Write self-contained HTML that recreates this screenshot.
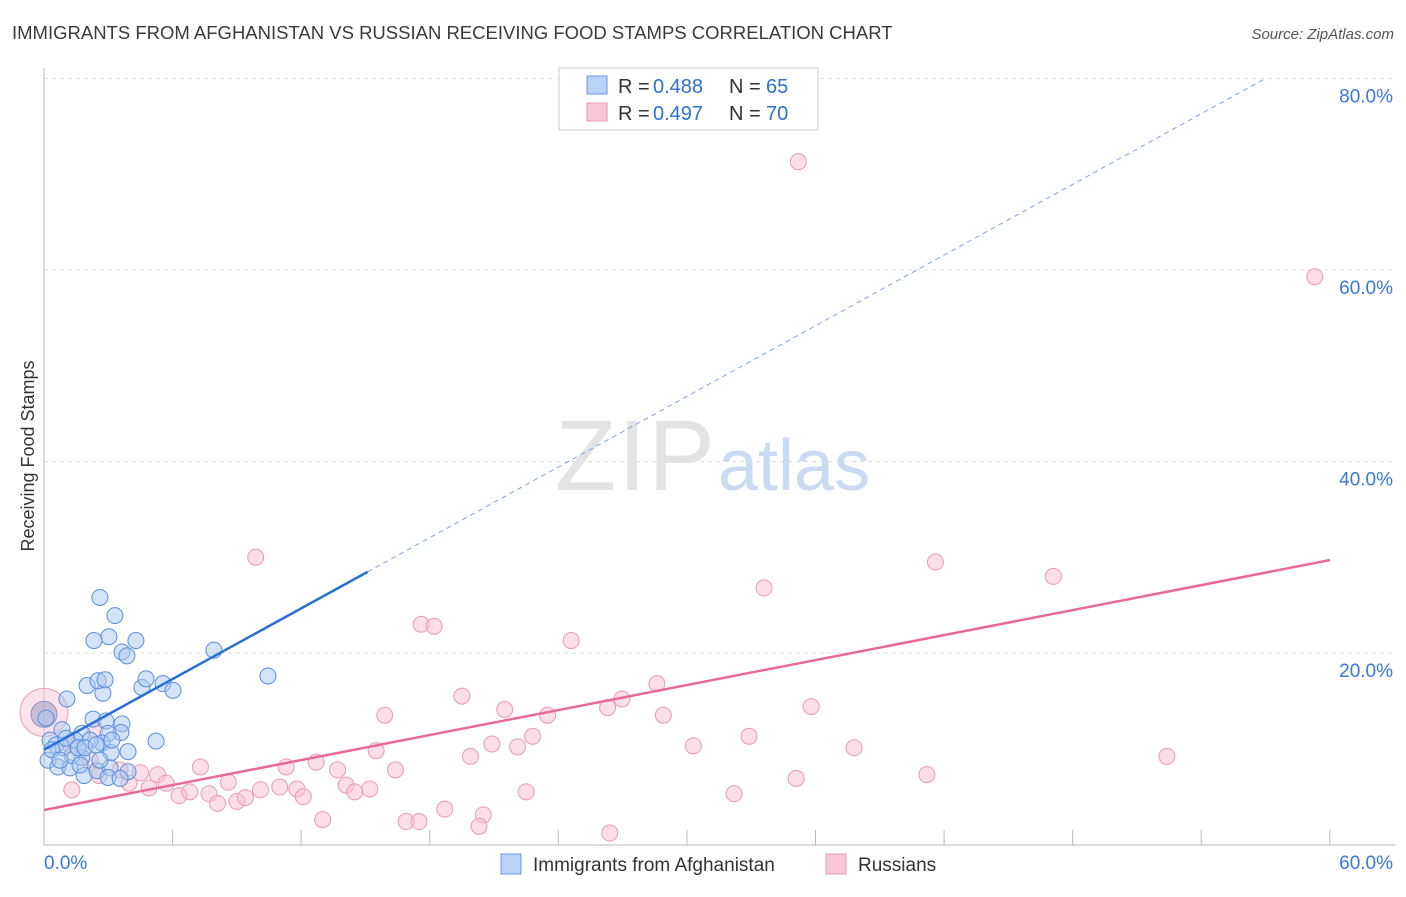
<!DOCTYPE html>
<html><head><meta charset="utf-8"><style>
body{margin:0;background:#fff;font-family:"Liberation Sans",sans-serif;}
svg text{font-family:"Liberation Sans",sans-serif;}
</style></head><body>
<svg width="1406" height="892">
<text x="12" y="39" font-size="18.5" fill="#3a3a3a">IMMIGRANTS FROM AFGHANISTAN VS RUSSIAN RECEIVING FOOD STAMPS CORRELATION CHART</text>
<text x="1394" y="39" font-size="15" fill="#555" font-style="italic" text-anchor="end">Source: ZipAtlas.com</text>
<g id="grid"></g>
<text x="715" y="490" font-size="100" fill="#e3e3e3" text-anchor="end" font-family="Liberation Serif,serif" textLength="160">ZIP</text>
<text x="718" y="490" font-size="72" fill="#c9daf2">atlas</text>
<text transform="translate(34,456) rotate(-90)" font-size="18" fill="#333" text-anchor="middle">Receiving Food Stamps</text>
<g id="marks"></g>
<g>
<rect x="559" y="68" width="259" height="62" fill="#fff" stroke="#ccc"/>
<rect x="587" y="76" width="20" height="18" fill="#b8d3f5" stroke="#6a9be0"/>
<rect x="587" y="103" width="20" height="18" fill="#f8c7d6" stroke="#e89ab3"/>
<text x="618" y="93" font-size="20" fill="#333">R =</text>
<text x="653" y="93" font-size="20" fill="#2f6fd0">0.488</text>
<text x="729" y="93" font-size="20" fill="#333">N =</text>
<text x="766" y="93" font-size="20" fill="#2f6fd0">65</text>
<text x="618" y="120" font-size="20" fill="#333">R =</text>
<text x="653" y="120" font-size="20" fill="#2f6fd0">0.497</text>
<text x="729" y="120" font-size="20" fill="#333">N =</text>
<text x="766" y="120" font-size="20" fill="#2f6fd0">70</text>
</g>
<g>
<rect x="501" y="854" width="20" height="20" fill="#b8d3f5" stroke="#6a9be0"/>
<text x="533" y="871" font-size="19" fill="#333">Immigrants from Afghanistan</text>
<rect x="826" y="854" width="20" height="20" fill="#f8c7d6" stroke="#e89ab3"/>
<text x="858" y="871" font-size="19" fill="#333">Russians</text>
</g>
</svg>
<script>
const xTicks=[0,60];
const yTicks=[20,40,60,80];
const blueX=[2.61,3.03,3.31,2.33,4.29,3.64,3.87,7.93,10.45,2.01,2.75,2.52,2.85,4.57,4.76,5.55,6.02,1.07,2.29,3.64,3.59,2.89,1.77,2.99,2.71,3.92,5.23,3.13,1.77,0.84,0.28,0.56,0.19,0.65,1.21,1.87,2.47,3.08,2.99,3.92,1.31,0.89,1.45,2.15,0.37,0.75,1.03,1.59,0.09,3.17,1.91,2.43,1.68,3.55,2.61];
const blueY=[25.8,21.7,23.9,21.3,21.3,20.1,19.7,20.3,17.6,16.6,15.8,17.1,17.2,16.4,17.3,16.8,16.1,15.2,13.1,12.6,11.7,12.9,11.6,11.6,10.6,9.7,10.8,9.6,9.1,12.0,10.9,10.4,8.8,8.1,8.0,7.2,7.7,8.0,7.0,7.6,9.3,10.1,10.9,10.9,9.9,8.8,11.1,10.1,13.2,10.9,10.1,10.4,8.3,6.9,8.8];
const pinkX=[35.2,59.3,9.88,41.6,47.1,33.6,17.6,18.2,24.6,19.5,28.6,26.97,26.3,21.5,23.5,15.9,28.9,35.8,32.9,30.3,37.8,22.8,20.9,22.1,15.5,19.9,52.4,41.2,35.1,32.2,22.5,12.7,13.7,16.4,11.3,7.3,5.3,8.6,10.1,11.0,11.8,12.1,14.1,14.5,15.2,4.9,5.7,6.3,6.8,7.7,8.1,9.0,9.4,13.0,16.9,17.5,18.7,20.5,20.3,26.4,3.97,4.5,3.55,2.57,1.3,2.15,1.21,2.38];
const pinkY=[71.3,59.3,30.0,29.5,28.0,26.8,23.0,22.8,21.3,15.5,16.8,15.2,14.3,14.1,13.5,13.5,13.5,14.4,11.3,10.3,10.1,11.3,10.5,10.2,9.8,9.2,9.2,7.3,6.9,5.3,5.5,8.6,7.8,7.8,8.1,8.1,7.3,6.5,5.7,6.0,5.8,5.0,6.2,5.5,5.8,5.9,6.4,5.1,5.5,5.3,4.3,4.5,4.9,2.6,2.4,2.4,3.7,3.1,1.9,1.2,6.4,7.5,7.8,7.2,5.7,8.8,10.4,12.0];
const blueFit=[9.9,1.23];
const pinkFit=[3.6,0.435];
const X=v=>44+v*21.43, Y=v=>844.5-v*9.575;
const NS="http://www.w3.org/2000/svg";
function mk(t,a,p){const e=document.createElementNS(NS,t);for(const k in a)e.setAttribute(k,a[k]);p.appendChild(e);return e;}
const g=document.getElementById('grid'), m=document.getElementById('marks');
mk('line',{x1:44,y1:68,x2:44,y2:845,stroke:'#bbb'},g);
mk('line',{x1:44,y1:845,x2:1395,y2:845,stroke:'#bbb'},g);
for(let i=0;i<=10;i++){const t=mk('line',{x1:X(i*6),y1:830,x2:X(i*6),y2:845,stroke:'#bbb'},g);

}
yTicks.forEach(v=>{const l=mk('line',{x1:44,y1:Y(v),x2:1395,y2:Y(v),stroke:'#ddd','stroke-dasharray':'4,4'},g);


const t=mk('text',{x:1393,y:Y(v)+24,'font-size':19,fill:'#3a78d8','text-anchor':'end'},g);t.textContent=v.toFixed(1)+'%';

});
xTicks.forEach((v,i)=>{const t=mk('text',{x:i?1393:44,y:869,'font-size':19,fill:'#3a78d8','text-anchor':i?'end':'start'},g);t.textContent=v.toFixed(1)+'%';

});
let c=mk('circle',{cx:X(0),cy:Y(13.8),r:24,fill:'rgba(248,190,208,0.45)',stroke:'#eaa0b8'},m);


c=mk('circle',{cx:X(0),cy:Y(13.6),r:13,fill:'rgba(150,150,190,0.5)',stroke:'#8a9ac8'},m);


pinkX.forEach((x,i)=>{const p=mk('circle',{cx:X(x),cy:Y(pinkY[i]),r:8,fill:'rgba(248,190,208,0.5)',stroke:'#eb9ab5'},m);

});
blueX.forEach((x,i)=>{const p=mk('circle',{cx:X(x),cy:Y(blueY[i]),r:8,fill:'rgba(170,200,240,0.5)',stroke:'#5b8fdc'},m);

});
let l=mk('line',{x1:X(0),y1:Y(pinkFit[0]),x2:X(60),y2:Y(pinkFit[0]+60*pinkFit[1]),stroke:'#e8689a','stroke-width':2.5},m);


l=mk('line',{x1:X(0),y1:Y(blueFit[0]),x2:X(15.1),y2:Y(blueFit[0]+15.1*blueFit[1]),stroke:'#2a6fd6','stroke-width':2.5},m);


const xe=(80-blueFit[0])/blueFit[1];
l=mk('line',{x1:X(15.1),y1:Y(blueFit[0]+15.1*blueFit[1]),x2:X(xe),y2:Y(80),stroke:'#7aa6e6','stroke-width':1,'stroke-dasharray':'5,4'},m);


</script>
</body></html>
